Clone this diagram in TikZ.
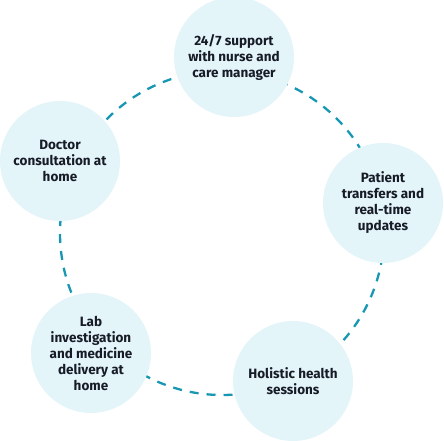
\documentclass[tikz,border=0pt]{standalone}
\usepackage{fontspec}
\setmainfont{Fira Sans}
\definecolor{ringcol}{HTML}{1797B2}
\definecolor{bubble}{HTML}{E4F5FA}
\definecolor{txt}{HTML}{161B26}
\tikzset{
  bubblenode/.style={circle, fill=bubble, minimum size=120pt, inner sep=0pt,
    align=center, text=txt, font=\bfseries\fontsize{13.5}{16}\selectfont},
  ring/.style={draw=ringcol, line width=2.3pt, dash pattern=on 9pt off 8pt}
}
\begin{document}
\begin{tikzpicture}[x=1pt,y=1pt]
\useasboundingbox (0,0) rectangle (444,440);
\coordinate (c) at (222,207);
\draw[ring] (c) circle (162);
\node[bubblenode] (top) at (234,383) {24/7 support\\with nurse and\\care manager};
\node[bubblenode] (doc) at (60,279) {Doctor\\consultation at\\home};
\node[bubblenode] (lab) at (91,87) {Lab\\investigation\\and medicine\\delivery at\\home};
\node[bubblenode] (hol) at (293,59) {Holistic health\\sessions};
\node[bubblenode] (pat) at (383,237) {Patient\\transfers and\\real-time\\updates};
\end{tikzpicture}
\end{document}
